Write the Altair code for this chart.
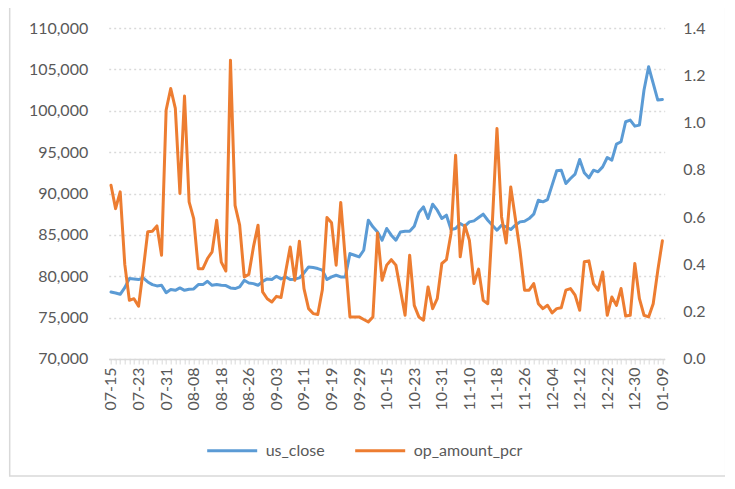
import json
import pandas as pd
import altair as alt

DATES = [
    "07-15", "07-16", "07-17", "07-18", "07-21", "07-22",
    "07-23", "07-24", "07-25", "07-28", "07-29", "07-30",
    "07-31", "08-01", "08-04", "08-05", "08-06", "08-07",
    "08-08", "08-11", "08-12", "08-13", "08-14", "08-15",
    "08-18", "08-19", "08-20", "08-21", "08-22", "08-25",
    "08-26", "08-27", "08-28", "08-29", "09-01", "09-02",
    "09-03", "09-04", "09-05", "09-08", "09-09", "09-10",
    "09-11", "09-12", "09-15", "09-16", "09-17", "09-18",
    "09-19", "09-22", "09-23", "09-24", "09-25", "09-26",
    "09-29", "09-30", "10-09", "10-10", "10-13", "10-14",
    "10-15", "10-16", "10-17", "10-20", "10-21", "10-22",
    "10-23", "10-24", "10-27", "10-28", "10-29", "10-30",
    "10-31", "11-03", "11-04", "11-05", "11-06", "11-07",
    "11-10", "11-11", "11-12", "11-13", "11-14", "11-17",
    "11-18", "11-19", "11-20", "11-21", "11-24", "11-25",
    "11-26", "11-27", "11-28", "12-01", "12-02", "12-03",
    "12-04", "12-05", "12-08", "12-09", "12-10", "12-11",
    "12-12", "12-15", "12-16", "12-17", "12-18", "12-19",
    "12-22", "12-23", "12-24", "12-25", "12-26", "12-29",
    "12-30", "12-31", "01-01", "01-05", "01-06", "01-07",
    "01-09",
]

US_CLOSE = [
    78100, 77980, 77820, 78630, 79720, 79680,
    79600, 79800, 79310, 78990, 78830, 78910,
    78020, 78390, 78300, 78590, 78300, 78430,
    78470, 78990, 78990, 79390, 78910, 78990,
    78910, 78870, 78590, 78510, 78710, 79510,
    79190, 79110, 78910, 79390, 79680, 79600,
    80000, 79680, 79920, 79600, 79650, 79800,
    80400, 81130, 81050, 80930, 80730, 79600,
    79920, 80120, 79920, 79920, 82740, 82540,
    82340, 83140, 86770, 85970, 85360, 84350,
    85770, 84960, 84350, 85360, 85440, 85440,
    86050, 87700, 88390, 86980, 88710, 87980,
    86980, 87380, 85640, 85770, 86370, 86050,
    86570, 86690, 87100, 87500, 86770, 86170,
    85560, 86170, 85970, 85640, 86170, 86570,
    86650, 86970, 87500, 89190, 88990, 89270,
    91010, 92740, 92820, 91210, 91810, 92340,
    94110, 92500, 91890, 92820, 92620, 93220,
    94350, 94030, 95970, 96250, 98670, 98870,
    98140, 98260, 102500, 105320, 103300, 101290,
    101370,
]

OP_AMOUNT_PCR = [
    0.735, 0.636, 0.707, 0.40, 0.248, 0.255,
    0.223, 0.375, 0.538, 0.540, 0.563, 0.439,
    1.053, 1.144, 1.060, 0.700, 1.112, 0.665,
    0.594, 0.382, 0.382, 0.425, 0.453, 0.587,
    0.410, 0.372, 1.264, 0.650, 0.566, 0.347,
    0.358, 0.474, 0.566, 0.284, 0.255, 0.241,
    0.265, 0.260, 0.368, 0.474, 0.333, 0.498,
    0.298, 0.213, 0.192, 0.188, 0.293, 0.598,
    0.576, 0.397, 0.662, 0.420, 0.178, 0.178,
    0.178, 0.167, 0.157, 0.178, 0.533, 0.333,
    0.397, 0.420, 0.397, 0.291, 0.185, 0.439,
    0.227, 0.178, 0.164, 0.305, 0.213, 0.255,
    0.404, 0.420, 0.531, 0.862, 0.432, 0.566,
    0.502, 0.319, 0.380, 0.248, 0.234, 0.580,
    0.975, 0.601, 0.491, 0.728, 0.594, 0.460,
    0.291, 0.291, 0.319, 0.234, 0.213, 0.227,
    0.195, 0.213, 0.217, 0.291, 0.298, 0.270,
    0.206, 0.411, 0.415, 0.319, 0.291, 0.368,
    0.185, 0.262, 0.227, 0.298, 0.182, 0.185,
    0.404, 0.255, 0.185, 0.178, 0.234, 0.375,
    0.500,
]

TICK_LABELS = [
    "07-15", "07-23", "07-31", "08-08", "08-18", "08-26", "09-03",
    "09-11", "09-19", "09-29", "10-15", "10-23", "10-31", "11-10",
    "11-18", "11-26", "12-04", "12-12", "12-22", "12-30", "01-09",
]

SERIES = ["us_close", "op_amount_pcr"]
COLORS = ["#5B9BD5", "#ED7D31"]
LEFT_TICKS = [70000, 75000, 80000, 85000, 90000, 95000, 100000, 105000, 110000]
RIGHT_TICKS = [0.0, 0.2, 0.4, 0.6, 0.8, 1.0, 1.2, 1.4]

n = len(DATES)
df = pd.DataFrame({
    "date": DATES * 2,
    "value": US_CLOSE + OP_AMOUNT_PCR,
    "series": [SERIES[0]] * n + [SERIES[1]] * n,
})

FONT = "Lato"
TXT = "#595959"
GRID = "#d9d9d9"
W, H = 556, 331

label_expr = f"indexof({json.dumps(TICK_LABELS)}, datum.value) >= 0 ? datum.value : ''"

x_enc = alt.X(
    "date:O",
    scale=alt.Scale(domain=DATES, padding=0.5),
    axis=alt.Axis(
        title=None, labelAngle=270, labelExpr=label_expr, labelOverlap=False,
        ticks=True, tickSize=5, tickColor=GRID, tickWidth=1,
        domainColor=GRID, domainWidth=1.5, labelPadding=3,
        labelFont=FONT, labelFontSize=16, labelColor=TXT, grid=False,
    ),
)

color_enc = alt.Color(
    "series:N",
    scale=alt.Scale(domain=SERIES, range=COLORS),
    legend=alt.Legend(
        title=None, orient="none", legendX=97, legendY=396, direction="horizontal",
        symbolType="stroke", symbolSize=2500, symbolStrokeWidth=3,
        labelFont=FONT, labelFontSize=16, labelColor=TXT,
        columnPadding=23, labelOffset=7,
    ),
)

blue = alt.Chart(df).transform_filter(
    alt.datum.series == SERIES[0]
).mark_line(strokeWidth=3, strokeJoin="round", strokeCap="round").encode(
    x=x_enc,
    y=alt.Y(
        "value:Q",
        scale=alt.Scale(domain=[70000, 110000], nice=False, zero=False),
        axis=alt.Axis(
            title=None, values=LEFT_TICKS, format=",.0f", grid=True, gridColor=GRID,
            gridDash=[2, 3], gridWidth=1.3, domain=False, ticks=False,
            labelPadding=21, labelFont=FONT, labelFontSize=16, labelColor=TXT,
        ),
    ),
    color=color_enc,
)

orange = alt.Chart(df).transform_filter(
    alt.datum.series == SERIES[1]
).mark_line(strokeWidth=3, strokeJoin="round", strokeCap="round").encode(
    x=x_enc,
    y=alt.Y(
        "value:Q",
        scale=alt.Scale(domain=[0, 1.4], nice=False),
        axis=alt.Axis(
            title=None, orient="right", values=RIGHT_TICKS, format=".1f", grid=False,
            domain=False, ticks=False, labelPadding=18,
            labelFont=FONT, labelFontSize=16, labelColor=TXT,
        ),
    ),
    color=color_enc,
)

border = alt.Chart(pd.DataFrame({"k": [0]})).mark_rect(
    filled=False, stroke=GRID, strokeWidth=1.5
).encode(
    x=alt.value(-99), x2=alt.value(617), y=alt.value(-40), y2=alt.value(448)
)

chart = alt.layer(blue, orange, border).resolve_scale(
    y="independent"
).properties(
    width=W, height=H,
    autosize=alt.AutoSizeParams(type="none"),
    padding={"left": 100.7, "top": 20, "right": 60, "bottom": 118},
    background="white",
).configure_view(strokeWidth=0)

chart.save("out.html", embed_options={"renderer": "svg", "actions": False})
